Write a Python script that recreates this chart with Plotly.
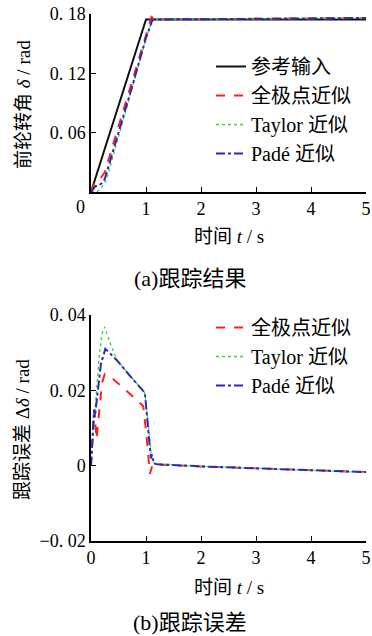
import plotly.graph_objects as go
from plotly.subplots import make_subplots

# ---------------- data: (a) tracking result ----------------
t_ref = [0, 1.0, 5]
ref = [0, 0.1745, 0.1745]

t_fp = [0, 0.05, 0.1, 0.15, 0.25, 0.5, 0.75, 1.0, 1.1, 1.15, 2, 5]
fp = [0, 0.008, 0.011, 0.012, 0.02, 0.066, 0.113, 0.159, 0.177, 0.1748, 0.1748, 0.1758]

t_tay = [0, 0.1, 0.15, 0.2, 0.25, 0.3, 0.5, 0.75, 1.0, 1.12, 2, 5]
tay = [0, 0.0, 0.002, 0.005, 0.009, 0.016, 0.055, 0.105, 0.155, 0.1745, 0.1747, 0.176]

t_pade = [0, 0.05, 0.08, 0.12, 0.2, 0.25, 0.5, 0.75, 1.0, 1.12, 2, 5]
pade = [0, 0.004, 0.006, 0.006, 0.009, 0.013, 0.059, 0.107, 0.156, 0.1745, 0.1747, 0.176]

# ---------------- data: (b) tracking error ----------------
te_fp = [0, 0.03, 0.06, 0.1, 0.16, 0.2, 0.25, 0.4, 0.6, 0.8, 0.95, 1.01, 1.07, 1.12, 1.2, 2, 3, 4, 5]
e_fp = [0, 0.009, 0.015, 0.007, 0.017, 0.022, 0.0243, 0.023, 0.0205, 0.0178, 0.0158, 0.008, -0.0022,
        0.0003, 0.0003, -0.0002, -0.0007, -0.0012, -0.0017]

te_tay = [0, 0.05, 0.1, 0.15, 0.2, 0.25, 0.35, 0.47, 0.7, 0.98, 1.05, 1.1, 1.15, 2, 3, 4, 5]
e_tay = [0, 0.011, 0.02, 0.029, 0.035, 0.0368, 0.0325, 0.028, 0.024, 0.0193, 0.01, 0.002, 0.0005,
         -0.0002, -0.0007, -0.0012, -0.0018]

te_pade = [0, 0.04, 0.055, 0.07, 0.12, 0.18, 0.26, 0.47, 0.7, 0.98, 1.05, 1.09, 1.11, 1.14, 1.2, 2, 3, 4, 5]
e_pade = [0, 0.011, 0.0147, 0.0129, 0.019, 0.027, 0.031, 0.028, 0.024, 0.0193, 0.008, 0.002, 0.003,
          0.0006, 0.0004, -0.0002, -0.0007, -0.0012, -0.0017]

x_ticks = [0, 1, 2, 3, 4, 5]
x_text_top = ["", "1", "2", "3", "4", "5"]
x_text_bot = ["0", "1", "2", "3", "4", "5"]
y1_ticks = [0, 0.06, 0.12, 0.18]
y1_text = ["", "0. 06", "0. 12", "0. 18"]
y2_ticks = [-0.02, 0, 0.02, 0.04]
y2_text = ["\u22120. 02", "0", "0. 02", "0. 04"]

names = ["参考输入", "全极点近似", "Taylor 近似", "Padé 近似"]

# ---------------- styling ----------------
SERIF = "Liberation Serif, Noto Sans CJK SC"
C_REF, C_FP, C_TAY, C_PADE = "#111111", "#ff2020", "#44cc44", "#2a2ab4"

# pixel layout helpers
W, H = 372, 636
L, R, T, B = 91, 6, 14, 95
pw, ph = W - L - R, H - T - B


def px(x):
    return (x - L) / pw


def py(y):
    return (H - B - y) / ph


fig = make_subplots(rows=2, cols=1)

fig.add_trace(go.Scatter(x=t_ref, y=ref, mode="lines", name=names[0],
                         line=dict(color=C_REF, width=2), legend="legend"), 1, 1)
fig.add_trace(go.Scatter(x=t_fp, y=fp, mode="lines", name=names[1],
                         line=dict(color=C_FP, width=2, dash="dash"), legend="legend"), 1, 1)
fig.add_trace(go.Scatter(x=t_tay, y=tay, mode="lines", name=names[2],
                         line=dict(color=C_TAY, width=1.3, dash="dot"), legend="legend"), 1, 1)
fig.add_trace(go.Scatter(x=t_pade, y=pade, mode="lines", name=names[3],
                         line=dict(color=C_PADE, width=2, dash="dashdot"), legend="legend"), 1, 1)

fig.add_trace(go.Scatter(x=te_fp, y=e_fp, mode="lines", name=names[1],
                         line=dict(color=C_FP, width=2, dash="dash"), legend="legend2"), 2, 1)
fig.add_trace(go.Scatter(x=te_tay, y=e_tay, mode="lines", name=names[2],
                         line=dict(color=C_TAY, width=1.3, dash="dot"), legend="legend2"), 2, 1)
fig.add_trace(go.Scatter(x=te_pade, y=e_pade, mode="lines", name=names[3],
                         line=dict(color=C_PADE, width=2, dash="dashdot"), legend="legend2"), 2, 1)

axis_common = dict(showline=True, linecolor="black", linewidth=1.5, ticks="inside", ticklen=5,
                   tickwidth=1.3, tickcolor="black", showgrid=False, zeroline=False, automargin=False,
                   tickfont=dict(family=SERIF, size=18, color="black"))

LEG_FONT = dict(family=SERIF, size=20, color="black")

fig.update_layout(
    width=W, height=H,
    margin=dict(l=L, r=R, t=T, b=B, autoexpand=False),
    paper_bgcolor="white", plot_bgcolor="white",
    font=dict(family=SERIF, color="black"),
    xaxis=dict(domain=[0, 1], range=[0, 5], tickvals=x_ticks, ticktext=x_text_top, **axis_common),
    yaxis=dict(domain=[py(192), 1], range=[0, 0.18], tickvals=y1_ticks, ticktext=y1_text, **axis_common),
    xaxis2=dict(domain=[0, 1], range=[0, 5], tickvals=x_ticks, ticktext=x_text_bot, **axis_common),
    yaxis2=dict(domain=[0, py(315)], range=[-0.02, 0.04], tickvals=y2_ticks, ticktext=y2_text, **axis_common),
    legend=dict(x=px(211), y=py(47), xanchor="left", yanchor="top", bgcolor="rgba(0,0,0,0)",
                font=LEG_FONT, itemwidth=30),
    legend2=dict(x=px(211), y=py(308), xanchor="left", yanchor="top", bgcolor="rgba(0,0,0,0)",
                 font=LEG_FONT, itemwidth=30),
)

annos = [
    dict(x=px(80), y=py(207), text="0", font=dict(family=SERIF, size=18)),
    dict(x=px(229), y=py(237), text="时间 <i>t</i> / s", font=dict(family=SERIF, size=19)),
    dict(x=px(190), y=py(278), text="(a)跟踪结果", font=dict(family=SERIF, size=22)),
    dict(x=px(23), y=py(105), text="前轮转角 <i>δ</i> / rad", textangle=-90, font=dict(family=SERIF, size=19)),
    dict(x=px(229), y=py(587), text="时间 <i>t</i> / s", font=dict(family=SERIF, size=19)),
    dict(x=px(190), y=py(622), text="(b)跟踪误差", font=dict(family=SERIF, size=22)),
    dict(x=px(23), y=py(430), text="跟踪误差 Δ<i>δ</i> / rad", textangle=-90, font=dict(family=SERIF, size=19)),
]
for a in annos:
    fig.add_annotation(xref="paper", yref="paper", showarrow=False, xanchor="center", yanchor="middle",
                       font_color="black", **a)

fig.write_html("out.html", config={"displayModeBar": False},
               post_script="document.body.style.margin='0';document.body.style.overflow='hidden';")
